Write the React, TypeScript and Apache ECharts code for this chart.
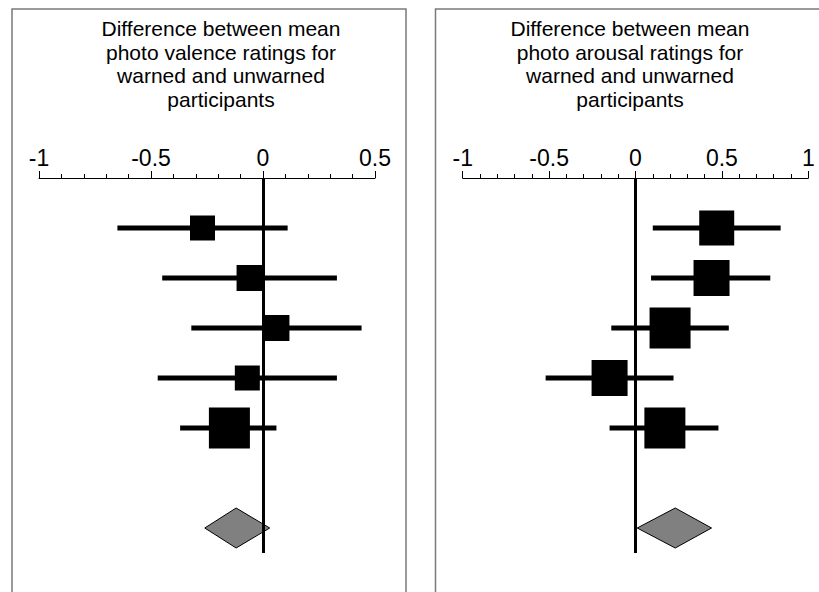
import React, { useEffect, useRef } from "react";
import * as echarts from "echarts";

// Valence panel (left)
const valenceEstimates = [-0.27, -0.06, 0.06, -0.07, -0.15];
const valenceLower = [-0.65, -0.45, -0.32, -0.47, -0.37];
const valenceUpper = [0.11, 0.33, 0.44, 0.33, 0.06];
const valenceWeights = [25, 26, 26, 25, 41];
const valencePooled = { lower: -0.26, estimate: -0.12, upper: 0.03 };

// Arousal panel (right)
const arousalEstimates = [0.47, 0.44, 0.2, -0.15, 0.17];
const arousalLower = [0.1, 0.09, -0.14, -0.52, -0.15];
const arousalUpper = [0.84, 0.78, 0.54, 0.22, 0.48];
const arousalWeights = [35, 36, 41, 36, 41];
const arousalPooled = { lower: 0.01, estimate: 0.23, upper: 0.44 };

const rows = [1, 2, 3, 4, 5];
const pooledRow = 7;

const valenceTitle = "Difference between mean\nphoto valence ratings for\nwarned and unwarned\nparticipants";
const arousalTitle = "Difference between mean\nphoto arousal ratings for\nwarned and unwarned\nparticipants";

const valenceRange = { min: -1, max: 0.5 };
const arousalRange = { min: -1, max: 1 };

const FONT = '"Liberation Sans", Arial, sans-serif';

function studyData(est: number[], lo: number[], hi: number[], w: number[]) {
  return est.map((e, i) => [e, rows[i], lo[i], hi[i], w[i]]);
}

const renderStudy = (params: any, api: any) => {
  const y = api.value(1);
  const c = api.coord([api.value(0), y]);
  const l = api.coord([api.value(2), y]);
  const h = api.coord([api.value(3), y]);
  const s = api.value(4);
  return {
    type: "group",
    children: [
      {
        type: "line",
        shape: { x1: l[0], y1: l[1], x2: h[0], y2: h[1] },
        style: { stroke: "#000", lineWidth: 5 },
      },
      {
        type: "rect",
        shape: { x: c[0] - s / 2, y: c[1] - s / 2, width: s, height: s },
        style: { fill: "#000" },
      },
    ],
  };
};

const renderDiamond = (params: any, api: any) => {
  const y = api.value(1);
  const half = 0.4;
  const l = api.coord([api.value(2), y]);
  const h = api.coord([api.value(3), y]);
  const t = api.coord([api.value(0), y - half]);
  const b = api.coord([api.value(0), y + half]);
  return {
    type: "polygon",
    shape: { points: [l, t, h, b] },
    style: { fill: "#808080", stroke: "#000", lineWidth: 1 },
  };
};

function xAxisFor(gridIndex: number, range: { min: number; max: number }) {
  return {
    type: "value",
    gridIndex,
    position: "top",
    min: range.min,
    max: range.max,
    interval: 0.5,
    axisLine: { show: true, lineStyle: { color: "#000", width: 1 } },
    axisTick: { show: true, length: 7, lineStyle: { color: "#000", width: 1 } },
    minorTick: { show: true, splitNumber: 5, length: 4, lineStyle: { color: "#000", width: 1 } },
    splitLine: { show: false },
    minorSplitLine: { show: false },
    axisLabel: {
      show: true,
      margin: 9,
      fontSize: 23,
      color: "#000",
      fontFamily: FONT,
      formatter: (v: number) => String(v),
    },
  };
}

function yAxisFor(gridIndex: number) {
  return {
    type: "value",
    gridIndex,
    min: 0,
    max: 7.5,
    inverse: true,
    show: false,
  };
}

export default function App() {
  const ref = useRef<HTMLDivElement>(null);
  useEffect(() => {
    if (!ref.current) return;
    const chart = echarts.init(ref.current, undefined, { renderer: "svg" });
    const option: any = {
      animation: false,
      backgroundColor: "#fff",
      grid: [
        { left: 39, width: 336, top: 178, height: 375 },
        { left: 462.7, width: 345.6, top: 178, height: 375 },
      ],
      xAxis: [xAxisFor(0, valenceRange), xAxisFor(1, arousalRange)],
      yAxis: [yAxisFor(0), yAxisFor(1)],
      graphic: [
        {
          type: "rect",
          shape: { x: 12, y: 9, width: 394, height: 700 },
          style: { fill: "none", stroke: "#7a7a7a", lineWidth: 1.5 },
          silent: true,
        },
        {
          type: "rect",
          shape: { x: 435.5, y: 9, width: 500, height: 700 },
          style: { fill: "none", stroke: "#7a7a7a", lineWidth: 1.5 },
          silent: true,
        },
        {
          type: "text",
          x: 221,
          y: 17,
          style: {
            text: valenceTitle,
            font: `21px ${FONT}`,
            fill: "#000",
            align: "center",
            verticalAlign: "top",
            lineHeight: 23.5,
          },
        },
        {
          type: "text",
          x: 630,
          y: 17,
          style: {
            text: arousalTitle,
            font: `21px ${FONT}`,
            fill: "#000",
            align: "center",
            verticalAlign: "top",
            lineHeight: 23.5,
          },
        },
      ],
      series: [
        {
          type: "custom",
          xAxisIndex: 0,
          yAxisIndex: 0,
          renderItem: renderStudy,
          data: studyData(valenceEstimates, valenceLower, valenceUpper, valenceWeights),
          z: 3,
        },
        {
          type: "custom",
          xAxisIndex: 0,
          yAxisIndex: 0,
          renderItem: renderDiamond,
          data: [[valencePooled.estimate, pooledRow, valencePooled.lower, valencePooled.upper]],
          z: 2,
          markLine: {
            silent: true,
            symbol: "none",
            label: { show: false },
            lineStyle: { color: "#000", width: 3, type: "solid" },
            data: [{ xAxis: 0 }],
            z: 4,
          },
        },
        {
          type: "custom",
          xAxisIndex: 1,
          yAxisIndex: 1,
          renderItem: renderStudy,
          data: studyData(arousalEstimates, arousalLower, arousalUpper, arousalWeights),
          z: 3,
        },
        {
          type: "custom",
          xAxisIndex: 1,
          yAxisIndex: 1,
          renderItem: renderDiamond,
          data: [[arousalPooled.estimate, pooledRow, arousalPooled.lower, arousalPooled.upper]],
          z: 2,
          markLine: {
            silent: true,
            symbol: "none",
            label: { show: false },
            lineStyle: { color: "#000", width: 3, type: "solid" },
            data: [{ xAxis: 0 }],
            z: 4,
          },
        },
      ],
    };
    chart.setOption(option);
    return () => chart.dispose();
  }, []);
  return (
    <div
      ref={ref}
      style={{ position: "fixed", left: 0, top: 0, width: 819, height: 592, background: "#fff" }}
    />
  );
}
